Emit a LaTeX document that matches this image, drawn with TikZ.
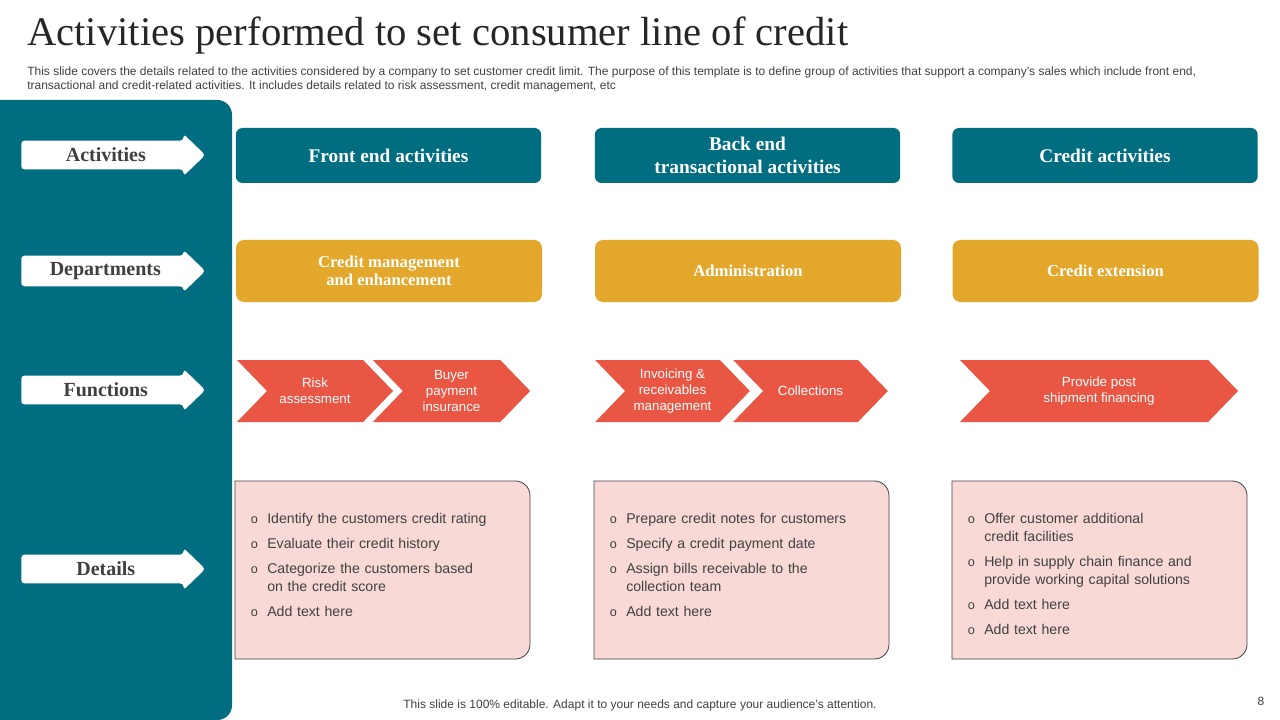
\documentclass[tikz,border=0pt]{standalone}
\usepackage{fontspec}
\setmainfont{Liberation Serif}
\setsansfont{Liberation Sans}
\usepackage{enumitem}
\usetikzlibrary{shapes.arrows,shapes.symbols}

\definecolor{slideteal}{RGB}{0,110,128}
\definecolor{slideorange}{RGB}{227,168,43}
\definecolor{slidered}{RGB}{233,86,67}
\definecolor{slidepink}{RGB}{248,217,214}
\definecolor{slidegray}{RGB}{64,64,64}
\definecolor{slidetext}{RGB}{38,38,38}

\setlist[itemize]{label={\fontsize{9.5}{9}\selectfont o}, leftmargin=15pt,
    labelsep=7pt, topsep=0pt, partopsep=0pt, parsep=0pt, itemsep=5.25pt}

\begin{document}
\begin{tikzpicture}[
    x=0.75pt, y=-0.75pt,
    rowlabel/.style={
        single arrow,
        fill=white,
        rounded corners=2.5pt,
        minimum width=31.5pt,
        minimum height=138pt,
        single arrow head extend=2.5pt,
        single arrow tip angle=88,
        inner sep=0pt,
        anchor=tail,
        text=slidegray,
        font=\bfseries\fontsize{15}{17}\selectfont
    },
    headbox/.style={
        fill=slideteal,
        rounded corners=5pt,
        minimum width=229pt,
        minimum height=41.25pt,
        text=white,
        align=center,
        font=\bfseries\fontsize{14.5}{17}\selectfont
    },
    deptbox/.style={
        fill=slideorange,
        rounded corners=6pt,
        minimum width=229.5pt,
        minimum height=46.5pt,
        text=white,
        align=center,
        font=\bfseries\fontsize{12.5}{13.5}\selectfont
    },
    chev/.style={
        signal,
        signal from=west,
        signal to=east,
        signal pointer angle=92,
        fill=slidered,
        minimum height=46.5pt,
        inner sep=0pt,
        text=white,
        align=center,
        font=\sffamily\fontsize{10}{12}\selectfont
    },
    detailbox/.style={
        draw=slidegray,
        fill=slidepink,
        line width=0.6pt
    },
    detailtext/.style={
        anchor=north west,
        inner sep=0pt,
        text width=200pt,
        text=slidegray,
        font=\sffamily\fontsize{10.6}{13.5}\selectfont
    },
    smalltext/.style={
        text=slidegray,
        inner sep=0pt,
        font=\sffamily\fontsize{9}{10.5}\selectfont
    }
]
\useasboundingbox (0,0) rectangle (1280,720);

\fill[slideteal, rounded corners=11pt] (-30,100) rectangle (232,720);

\node[anchor=base west, inner sep=0pt, text=slidetext,
    font=\fontsize{30.5}{34}\selectfont] (title) at (27,46)
    {Activities performed to set consumer line of credit};

\node[smalltext, anchor=north west, align=left] (subtitle) at (27,67)
    {This slide covers the details related to the activities considered by a company to  set customer credit limit. The purpose of this template is to define group of activities that support a company’s sales which include front end,\\
    transactional and credit-related activities. It includes details related to risk assessment, credit management, etc};

\node[rowlabel] (activities) at (21,155) {Activities};
\node[rowlabel] (departments) at (21,271) {Departments};
\node[rowlabel] (functions) at (21,390) {Functions};
\node[rowlabel] (details) at (21,569) {Details};

\node[headbox] (front) at (388.5,155.5) {Front end activities};
\node[headbox] (back) at (747.5,155.5) {Back end\\transactional activities};
\node[headbox] (credit) at (1105,155.5) {Credit activities};

\node[deptbox] (mgmt) at (389,271) {Credit management\\and enhancement};
\node[deptbox] (admin) at (748,271) {Administration};
\node[deptbox] (extension) at (1105.5,271) {Credit extension};

\node[chev, minimum width=117pt] (risk) at (315,391) {Risk\\assessment};
\node[chev, minimum width=118pt] (buyer) at (451.5,391) {Buyer\\payment\\insurance};
\node[chev, minimum width=116pt] (invoicing) at (672.5,391) {Invoicing \&\\receivables\\management};
\node[chev, minimum width=116pt] (collections) at (810.5,391) {Collections};
\node[chev, minimum width=208.5pt] (shipment) at (1099,391) {Provide post\\shipment financing};

\draw[detailbox] (235,481) [rounded corners=11pt] -- (530,481) -- (530,659) [sharp corners] -- (235,659) -- cycle;
\draw[detailbox] (594,481) [rounded corners=11pt] -- (889,481) -- (889,659) [sharp corners] -- (594,659) -- cycle;
\draw[detailbox] (952,481) [rounded corners=11pt] -- (1247,481) -- (1247,659) [sharp corners] -- (952,659) -- cycle;

\node[detailtext] (list1) at (247,505) {
    \begin{itemize}
        \item Identify the customers credit rating
        \item Evaluate their credit history
        \item Categorize the customers based\newline on the credit score
        \item Add text here
    \end{itemize}};
\node[detailtext] (list2) at (606,505) {
    \begin{itemize}
        \item Prepare credit notes for customers
        \item Specify a credit payment date
        \item Assign bills receivable to the\newline collection team
        \item Add text here
    \end{itemize}};
\node[detailtext] (list3) at (964,505) {
    \begin{itemize}
        \item Offer customer additional\newline credit facilities
        \item Help in supply chain finance and\newline provide working capital solutions
        \item Add text here
        \item Add text here
    \end{itemize}};

\node[smalltext] (footer) at (640,705) {This slide is 100\% editable. Adapt it to your needs and capture your audience’s attention.};
\node[smalltext] (pagenum) at (1261,701) {8};

\end{tikzpicture}
\end{document}
